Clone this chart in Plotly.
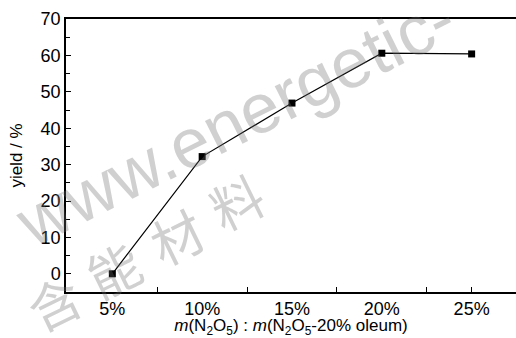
import plotly.graph_objects as go

ratio = [5, 10, 15, 20, 25]
yield_pct = [0, 32.2, 46.9, 60.6, 60.4]
x_tick_vals = [5, 10, 15, 20, 25]
x_tick_text = ["5%", "10%", "15%", "20%", "25%"]
x_mark_vals = [7.5, 12.5, 17.5, 22.5, 25]

FONT = "Liberation Sans, Arial, sans-serif"
WM = "rgba(110,110,110,0.32)"

L, T, B = 65.5, 18.5, 46
PW = 516 - L
PH = 338 - T - B


def px2paper(px, py):
    return (px - L) / PW, (292 - py) / PH


fig = go.Figure()

# watermark
wx, wy = px2paper(236, 120)
fig.add_annotation(text="www.energetic-", x=wx, y=wy, xref="paper", yref="paper",
                   xanchor="center", yanchor="middle",
                   showarrow=False, textangle=-26.5,
                   font=dict(size=70, color=WM, family=FONT))
wm_chars = ["含", "能", "材", "料"]
wm_pos = [(53, 302), (113, 268), (176, 235), (236, 200)]
for ch, (px, py) in zip(wm_chars, wm_pos):
    cx, cy = px2paper(px, py)
    fig.add_annotation(text=ch, x=cx, y=cy, xref="paper", yref="paper",
                       xanchor="center", yanchor="middle",
                       showarrow=False, textangle=-26,
                       font=dict(size=52, color=WM, family="Noto Sans CJK SC"))

fig.add_trace(go.Scatter(
    x=ratio, y=yield_pct, mode="lines+markers",
    line=dict(color="black", width=1.2),
    marker=dict(symbol="square", size=7, color="black"),
    showlegend=False,
))

fig.update_layout(
    width=516, height=338,
    margin=dict(l=L, r=0, t=T, b=B, pad=0),
    paper_bgcolor="white", plot_bgcolor="white",
    font=dict(family=FONT, size=17, color="black"),
    xaxis=dict(
        range=[2.42, 27.47],
        tickmode="array", tickvals=x_tick_vals, ticktext=x_tick_text,
        ticks="", showgrid=False, zeroline=False,
        showline=True, linecolor="black", linewidth=1.5, mirror=True,
        minor=dict(tickmode="array", tickvals=x_mark_vals, ticks="inside",
                   ticklen=5, tickcolor="black", tickwidth=1, showgrid=False),
        title=dict(text="<i>m</i>(N<sub>2</sub>O<sub>5</sub>) : <i>m</i>(N<sub>2</sub>O<sub>5</sub>-20% oleum)",
                   standoff=2, font=dict(size=17)),
        tickfont=dict(size=18),
    ),
    yaxis=dict(
        range=[-5, 70], dtick=10, tick0=0,
        ticks="inside", ticklen=5, tickwidth=1, tickcolor="black",
        minor=dict(dtick=5, ticks="inside", ticklen=4, tickcolor="black", tickwidth=1, showgrid=False),
        showgrid=False, zeroline=False,
        showline=True, linecolor="black", linewidth=1.5, mirror=False,
        title=dict(text="yield / %", standoff=14, font=dict(size=17)),
        tickfont=dict(size=18),
    ),
)

fig.write_html("out.html", config={"displayModeBar": False},
               post_script="document.body.style.margin='0';document.body.style.overflow='hidden';")
